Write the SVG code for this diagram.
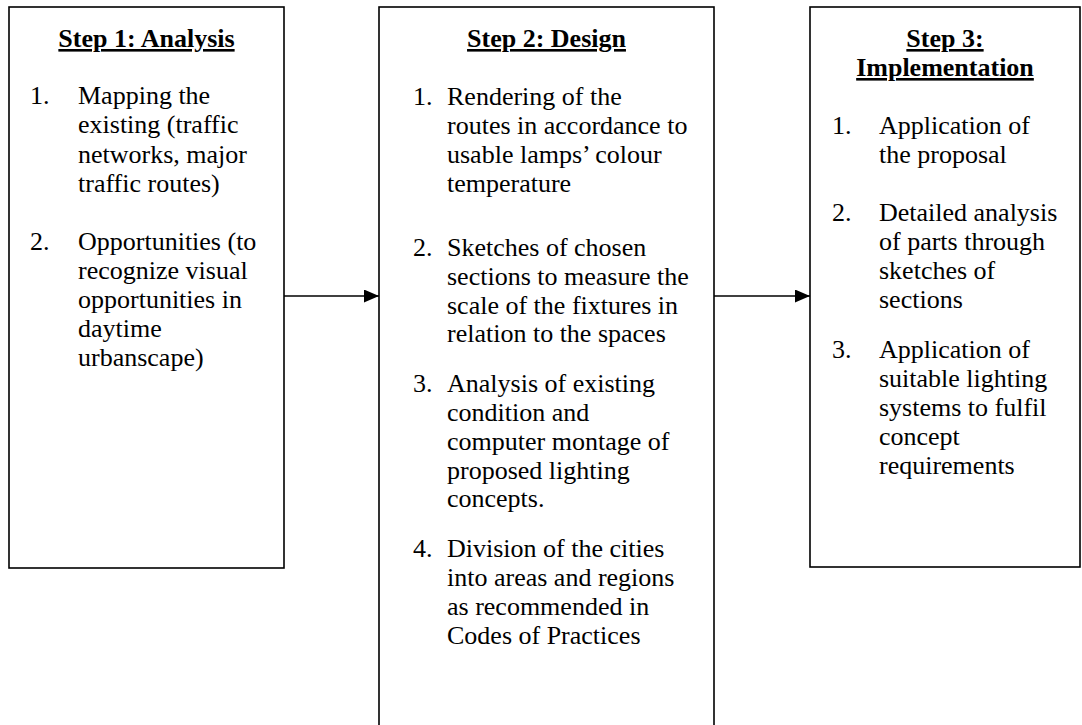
<svg xmlns="http://www.w3.org/2000/svg" width="1082" height="725" viewBox="0 0 1082 725">
<defs>
<style>
.box{fill:#fff;stroke:#000;stroke-width:1.6}
.t{font-family:"Liberation Serif","Times New Roman",serif;font-size:26px;fill:#000}
.h{font-family:"Liberation Serif","Times New Roman",serif;font-size:26px;font-weight:bold;fill:#000;text-anchor:middle;text-decoration:underline}
.c{stroke:#000;stroke-width:1.6;fill:none}
</style>
<marker id="ah" viewBox="0 0 10 10" refX="10" refY="5" markerWidth="10" markerHeight="9" markerUnits="userSpaceOnUse" orient="auto">
<path d="M0,0 L10,5 L0,10 z" fill="#000"/>
</marker>
<marker id="ah2" viewBox="0 0 15 13" refX="15" refY="6.5" markerWidth="15" markerHeight="13" markerUnits="userSpaceOnUse" orient="auto">
<path d="M0,0 L15,6.5 L0,13 z" fill="#000"/>
</marker>
</defs>
<rect width="1082" height="725" fill="#fff"/>
<g id="connectors">
<line class="c" x1="284" y1="296" x2="379" y2="296" marker-end="url(#ah2)"/>
<line class="c" x1="714" y1="296" x2="810" y2="296" marker-end="url(#ah2)"/>
</g>
<g id="step1">
<rect class="box" x="9" y="7" width="275" height="561"/>
<text class="h" x="146.5" y="47">Step 1: Analysis</text>
<text class="t" x="30" y="104">1.</text>
<text class="t" x="78" y="104">Mapping the</text>
<text class="t" x="78" y="133">existing (traffic</text>
<text class="t" x="78" y="163">networks, major</text>
<text class="t" x="78" y="192">traffic routes)</text>
<text class="t" x="30" y="250">2.</text>
<text class="t" x="78" y="250">Opportunities (to</text>
<text class="t" x="78" y="279">recognize visual</text>
<text class="t" x="78" y="308">opportunities in</text>
<text class="t" x="78" y="337">daytime</text>
<text class="t" x="78" y="366">urbanscape)</text>
</g>
<g id="step2">
<rect class="box" x="379" y="7" width="335" height="730"/>
<text class="h" x="546.5" y="47">Step 2: Design</text>
<text class="t" x="413" y="105">1.</text>
<text class="t" x="447" y="105">Rendering of the</text>
<text class="t" x="447" y="134">routes in accordance to</text>
<text class="t" x="447" y="163">usable lamps’ colour</text>
<text class="t" x="447" y="192">temperature</text>
<text class="t" x="413" y="256">2.</text>
<text class="t" x="447" y="256">Sketches of chosen</text>
<text class="t" x="447" y="285">sections to measure the</text>
<text class="t" x="447" y="314">scale of the fixtures in</text>
<text class="t" x="447" y="342">relation to the spaces</text>
<text class="t" x="413" y="392">3.</text>
<text class="t" x="447" y="392">Analysis of existing</text>
<text class="t" x="447" y="421">condition and</text>
<text class="t" x="447" y="450">computer montage of</text>
<text class="t" x="447" y="479">proposed lighting</text>
<text class="t" x="447" y="507">concepts.</text>
<text class="t" x="413" y="557">4.</text>
<text class="t" x="447" y="557">Division of the cities</text>
<text class="t" x="447" y="586">into areas and regions</text>
<text class="t" x="447" y="615">as recommended in</text>
<text class="t" x="447" y="644">Codes of Practices</text>
</g>
<g id="step3">
<rect class="box" x="810" y="7" width="270" height="560"/>
<text class="h" x="945" y="47">Step 3:</text>
<text class="h" x="945" y="76">Implementation</text>
<text class="t" x="832" y="134">1.</text>
<text class="t" x="879" y="134">Application of</text>
<text class="t" x="879" y="163">the proposal</text>
<text class="t" x="832" y="221">2.</text>
<text class="t" x="879" y="221">Detailed analysis</text>
<text class="t" x="879" y="250">of parts through</text>
<text class="t" x="879" y="279">sketches of</text>
<text class="t" x="879" y="308">sections</text>
<text class="t" x="832" y="358">3.</text>
<text class="t" x="879" y="358">Application of</text>
<text class="t" x="879" y="387">suitable lighting</text>
<text class="t" x="879" y="416">systems to fulfil</text>
<text class="t" x="879" y="445">concept</text>
<text class="t" x="879" y="474">requirements</text>
</g>
</svg>
